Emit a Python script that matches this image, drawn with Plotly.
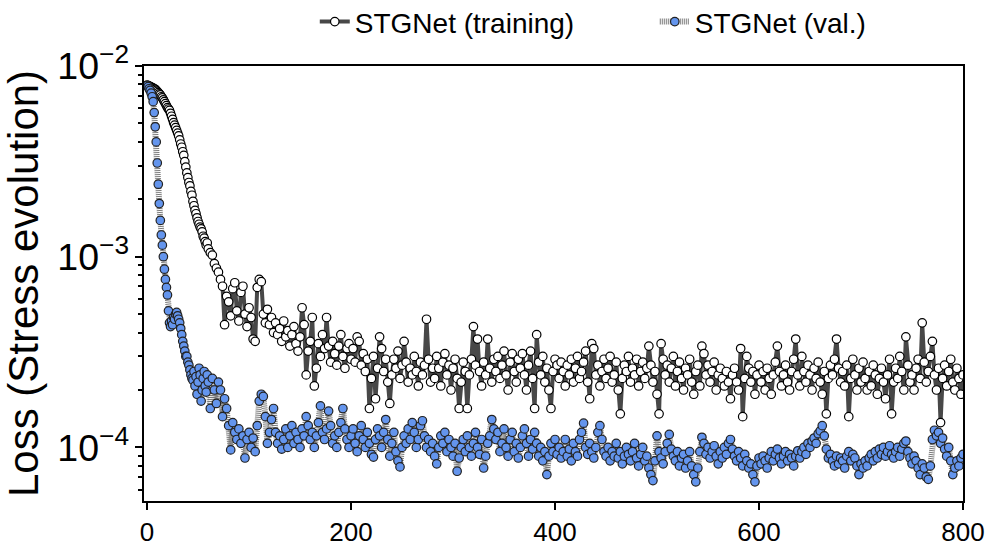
import plotly.graph_objects as go

# Loss values in units of 1e-4
SCALE = 1e-4

# epochs 0..60, every epoch
train_head = [
    79.5, 79, 78.5, 78, 77.5, 77, 76.5, 76, 75.5, 74.5,
    73.5, 72.5, 71.5, 70.5, 69, 68, 66.5, 65, 63.5, 62,
    60.5, 59.5, 58.5, 56.5, 54.5, 52.5, 50.5, 49, 47.5, 46,
    44.5, 43, 41, 39, 37.5, 35.5, 34, 31.5, 29.5, 27.5,
    26, 24.5, 23.5, 22, 21, 19.5, 18.5, 17.5, 16.8, 16,
    15.3, 14.8, 14.3, 14, 13.5, 12.8, 12.5, 12, 11.5, 11.8,
    11,
]
val_head = [
    79, 78, 76, 74.5, 72, 69, 65, 57, 48, 40,
    31, 24, 19, 15.5, 13, 11.5, 10, 8.6, 7.6, 6.9,
    6.3, 5.2, 4.5, 4.3, 4.6, 4.4, 4.8, 4.7, 5.0, 5.1,
    4.9, 4.7, 4.5, 4.2, 3.9, 3.6, 3.4, 3.2, 3.0, 3.0,
    2.8, 2.7, 2.55, 2.4, 2.3, 2.25, 2.5, 2.1, 2.35, 1.9,
    2.2, 2.6, 2.4, 1.75, 2.0, 2.3, 2.5, 2.1, 1.95, 2.4,
    2.2,
]

# epochs 62..800, every 2 epochs (one row = 20 epochs)
train_tail = [
    10.5, 10.2, 9.2, 8.7, 8.3, 7.6, 7.0, 4.4, 6.2, 5.8,
    4.9, 6.8, 7.3, 5.2, 4.6, 6.5, 7.0, 5.0, 4.3, 5.4,
    4.8, 3.7, 3.6, 6.9, 7.6, 7.4, 5.0, 4.5, 5.3, 4.4,
    4.8, 4.0, 4.5, 3.9, 4.2, 3.6, 4.6, 3.8, 4.1, 3.4,
    3.9, 4.3, 3.5, 3.2, 3.8, 5.4, 4.4, 2.4, 3.2, 3.6,
    4.8, 2.1, 2.6, 3.5, 3.0, 3.9, 3.3, 4.8, 3.4, 2.8,
    3.6, 3.1, 2.7, 3.4, 3.9, 3.0, 2.6, 3.3, 3.5, 2.9,
    3.3, 2.8, 3.8, 3.6, 2.7, 3.1, 2.5, 2.9, 1.6, 2.3,
    3.0, 1.8, 2.6, 3.8, 3.3, 2.5, 2.9, 2.2, 1.7, 2.4,
    2.9, 2.6, 3.2, 2.3, 2.7, 3.6, 2.8, 2.2, 2.6, 2.4,
    3.0, 2.5, 2.1, 2.8, 2.4, 2.7, 4.7, 2.9, 2.2, 2.6,
    2.3, 3.0, 2.6, 2.1, 2.8, 3.1, 2.4, 2.7, 2.0, 2.6,
    2.9, 2.3, 1.6, 2.2, 2.8, 2.5, 1.6, 2.4, 2.9, 4.3,
    2.7, 3.7, 2.5, 2.1, 2.8, 2.4, 3.7, 2.6, 2.2, 2.9,
    2.5, 3.0, 2.3, 2.7, 3.2, 2.4, 2.0, 2.8, 3.1, 2.5,
    2.2, 2.9, 2.6, 3.1, 2.4, 2.0, 2.7, 3.2, 2.3, 1.6,
    3.9, 2.8, 2.4, 3.0, 2.2, 2.6, 2.0, 1.6, 2.5, 2.9,
    2.7, 2.3, 2.8, 2.5, 2.1, 2.7, 2.4, 2.9, 2.2, 2.6,
    3.0, 2.3, 2.5, 2.8, 3.2, 2.2, 1.8, 3.5, 3.3, 2.4,
    2.7, 2.1, 2.5, 2.9, 2.3, 2.6, 3.0, 2.2, 2.4, 2.8,
    2.0, 1.5, 2.3, 2.7, 2.5, 3.0, 2.2, 2.6, 2.4, 2.9,
    2.1, 2.5, 2.8, 2.3, 2.6, 3.4, 2.7, 2.2, 2.5, 1.9,
    1.5, 3.5, 2.9, 2.4, 2.7, 2.2, 2.6, 3.0, 2.1, 2.5,
    2.8, 2.3, 2.0, 2.6, 2.4, 2.9, 2.2, 1.9, 2.5, 2.7,
    2.1, 3.4, 3.1, 2.4, 2.7, 2.2, 2.5, 2.8, 2.0, 2.4,
    2.6, 2.3, 2.1, 2.5, 2.2, 1.8, 2.4, 2.6, 2.2, 2.0,
    3.3, 1.45, 2.3, 3.0, 2.6, 2.2, 2.5, 1.9, 2.4, 2.7,
    2.2, 2.5, 2.0, 2.6, 2.3, 1.9, 2.4, 2.8, 3.4, 2.5,
    2.1, 2.4, 2.7, 2.2, 2.0, 2.5, 2.9, 3.7, 2.4, 2.1,
    3.0, 2.5, 2.2, 2.7, 2.4, 2.0, 2.6, 2.3, 2.8, 2.2,
    1.9, 2.5, 1.5, 2.3, 2.7, 2.4, 2.9, 3.7, 2.6, 2.2,
    2.5, 2.1, 2.7, 1.45, 2.3, 2.9, 2.4, 2.0, 2.6, 2.2,
    2.8, 2.3, 2.0, 2.5, 2.1, 2.7, 2.4, 1.9, 2.3, 2.6,
    2.2, 1.8, 2.4, 2.9, 1.5, 2.2, 2.6, 2.3, 3.0, 2.5,
    2.0, 3.8, 2.7, 2.2, 2.4, 2.0, 2.6, 2.9, 2.3, 4.5,
    2.8, 2.2, 2.5, 3.0, 3.6, 2.4, 2.0, 2.6, 1.35, 2.3,
    2.7, 2.1, 2.5, 2.9, 2.2, 2.0, 2.6, 2.3, 1.9, 2.4,
]
val_tail = [
    1.6, 2.3, 2.0, 1.7, 2.2, 2.0, 1.45, 1.8, 1.6, 1.3,
    0.97, 1.35, 1.2, 1.1, 1.25, 1.05, 1.15, 0.88, 1.1, 1.2,
    1.0, 1.12, 0.95, 1.3, 1.75, 1.9, 1.85, 1.45, 1.05, 1.2,
    1.4, 1.6, 1.2, 1.05, 1.15, 0.98, 1.1, 1.25, 1.0, 1.15,
    1.3, 1.05, 1.2, 1.1, 1.0, 1.25, 1.15, 1.45, 1.3, 1.1,
    1.2, 1.0, 1.15, 1.35, 1.65, 1.2, 1.1, 1.25, 1.55, 1.3,
    1.05, 1.15, 1.0, 1.2, 1.35, 1.6, 1.25, 1.1, 1.0, 1.15,
    1.25, 1.05, 0.95, 1.15, 1.3, 1.1, 1.0, 1.2, 1.05, 0.92,
    0.89, 1.1, 1.25, 1.15, 1.0, 1.2, 1.4, 1.1, 0.9, 1.05,
    1.2, 0.95, 0.85, 0.79, 1.0, 1.15, 1.05, 1.25, 1.1, 1.35,
    1.2, 1.0, 1.1, 1.3, 1.38, 1.15, 1.0, 1.1, 0.95, 1.05,
    0.9, 0.82, 1.0, 1.15, 1.05, 1.2, 0.95, 1.1, 1.0, 0.9,
    1.05, 0.75, 0.88, 1.0, 1.1, 0.95, 1.15, 1.0, 0.9, 1.05,
    1.2, 1.0, 0.92, 1.1, 0.78, 0.9, 1.05, 1.15, 1.4, 1.25,
    1.1, 1.2, 0.95, 1.05, 1.25, 1.0, 0.9, 1.1, 1.2, 0.95,
    1.05, 0.88, 1.0, 1.15, 1.25, 1.05, 0.9, 1.1, 0.98, 1.2,
    1.05, 0.9, 1.0, 0.85, 0.95, 0.72, 0.9, 1.05, 0.95, 1.1,
    0.92, 1.0, 0.88, 0.95, 1.1, 0.9, 0.98, 0.85, 1.05, 0.95,
    0.9, 1.1, 1.2, 1.34, 1.0, 0.92, 1.05, 0.95, 0.88, 1.0,
    1.2, 1.3, 1.1, 0.95, 0.9, 1.0, 0.85, 0.95, 0.9, 1.05,
    0.88, 0.95, 0.82, 0.9, 1.0, 0.92, 0.85, 0.95, 1.05, 0.88,
    0.8, 0.92, 1.0, 0.85, 0.9, 0.78, 0.72, 0.67, 0.85, 1.15,
    0.95, 0.88, 0.82, 0.95, 1.05, 1.17, 0.98, 0.9, 0.85, 0.95,
    0.8, 0.88, 0.92, 0.78, 0.85, 0.95, 0.8, 0.72, 0.66, 0.78,
    0.95, 1.13, 1.05, 0.92, 1.0, 0.88, 0.95, 1.02, 0.9, 0.82,
    0.95, 0.88, 1.0, 0.92, 1.05, 1.1, 0.98, 0.9, 0.85, 0.95,
    0.88, 0.8, 0.92, 0.85, 0.78, 0.82, 0.72, 0.66, 0.8, 0.88,
    0.82, 0.9, 0.85, 0.78, 0.88, 0.95, 0.85, 0.92, 0.98, 0.88,
    0.82, 0.9, 0.95, 0.85, 0.92, 0.88, 0.8, 0.9, 0.96, 0.88,
    0.95, 1.0, 0.92, 1.05, 1.0, 1.08, 1.12, 1.05, 1.18, 1.22,
    1.3, 1.15, 0.98, 0.88, 0.92, 0.85, 0.8, 0.9, 0.82, 0.88,
    0.85, 0.78, 0.9, 0.95, 0.85, 0.92, 0.88, 0.8, 0.72, 0.82,
    0.78, 0.85, 0.8, 0.88, 0.92, 0.85, 0.95, 0.88, 0.98, 0.92,
    1.0, 0.9, 0.95, 1.02, 0.92, 0.88, 0.95, 1.0, 0.9, 0.98,
    1.05, 1.08, 0.95, 0.88, 0.82, 0.9, 0.85, 0.78, 0.72, 0.82,
    0.78, 0.7, 0.68, 0.8, 1.1, 1.23, 1.15, 1.2, 1.05, 1.12,
    0.98, 0.9, 1.0, 0.85, 0.72, 0.78, 0.85, 0.8, 0.88, 0.92,
]


def epochs_for(head, tail):
    return list(range(len(head))) + list(range(len(head) + 1, len(head) + 1 + 2 * len(tail), 2))


train_x = epochs_for(train_head, train_tail)
train_y = [v * SCALE for v in train_head + train_tail]
val_x = epochs_for(val_head, val_tail)
val_y = [v * SCALE for v in val_head + val_tail]

font = "Liberation Sans, Arial, sans-serif"

fig = go.Figure()
fig.add_trace(go.Scatter(
    x=train_x, y=train_y,
    mode='lines+markers',
    name='STGNet (training)',
    line=dict(color='#484848', width=4),
    marker=dict(size=8.5, color='white', line=dict(color='black', width=1.2)),
))
fig.add_trace(go.Scatter(
    x=val_x, y=val_y,
    mode='lines+markers',
    name='STGNet (val.)',
    line=dict(color='#7a7a7a', width=6, dash='1px,1px'),
    marker=dict(size=8.5, color='#6495ED', line=dict(color='#222222', width=1.2)),
))

fig.update_layout(
    width=993, height=548,
    margin=dict(l=144, r=30, t=66, b=47),
    paper_bgcolor='white', plot_bgcolor='white',
    font=dict(family=font, color='black', size=24),
    legend=dict(
        orientation='h', xref='container', yref='container',
        x=0.317, xanchor='left', y=0.96, yanchor='middle',
        font=dict(size=28), bgcolor='rgba(0,0,0,0)', entrywidth=295,
    ),
    xaxis=dict(
        range=[-3, 800], tickvals=[0, 200, 400, 600, 800], automargin=False,
        showline=True, linecolor='black', linewidth=2, mirror=True,
        ticks='outside', ticklen=7, tickwidth=2, tickcolor='black',
        showgrid=False, zeroline=False, tickfont=dict(size=26),
    ),
    yaxis=dict(
        type='log', range=[-4.281, -2], dtick=1, exponentformat='power',
        automargin=False,
        showline=True, linecolor='black', linewidth=2, mirror=True,
        ticks='outside', ticklen=7, tickwidth=2, tickcolor='black',
        minor=dict(ticks='outside', ticklen=4, tickwidth=1.5, tickcolor='black',
                   dtick='D1', showgrid=False),
        showgrid=False, zeroline=False, tickfont=dict(size=30),
        title=dict(text='Loss (Stress evolution)', font=dict(size=42), standoff=10),
    ),
)

# drop the default 8px page margin so the figure sits at the window corner
fig.write_html("out.html", config={'displayModeBar': False},
               post_script="document.body.style.margin='0';")
